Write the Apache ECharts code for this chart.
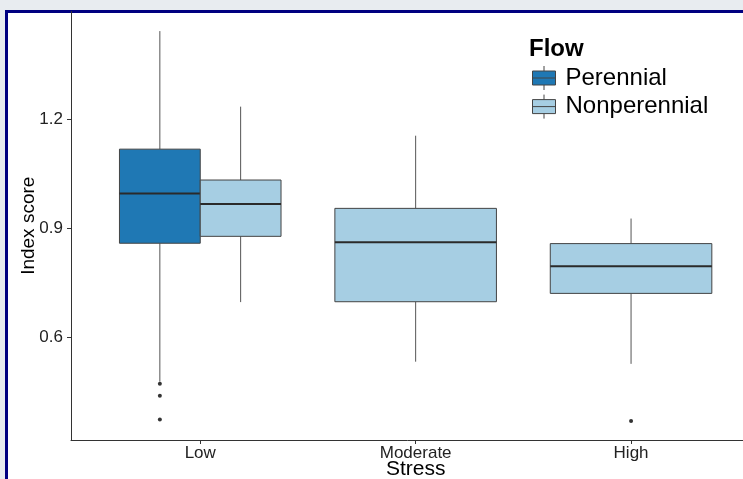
<!DOCTYPE html>
<html>
<head>
<meta charset="utf-8">
<script src="https://cdn.jsdelivr.net/npm/echarts@6/dist/echarts.min.js"></script>
<style>
  html, body { margin: 0; padding: 0; background: #e8ecf0; }
  #frame { position: absolute; left: 5px; top: 10px; width: 800px; height: 500px;
           border-top: 3px solid #000080; border-left: 3px solid #000080; background: #ffffff; }
  #chart { position: absolute; left: 0; top: 0; width: 743px; height: 479px; }
</style>
</head>
<body>
<div id="frame"></div>
<div id="chart"></div>
<script>
// Stress levels on the x axis
const categories = ['Low', 'Moderate', 'High'];
// Flow groups and their fill colours
const groups = ['Perennial', 'Nonperennial'];
const groupColors = ['#1f78b4', '#a6cee3'];
// Five-number summaries per stress level: [lower whisker, Q1, median, Q3, upper whisker]
const perennialStats = [[0.477, 0.858, 0.995, 1.117, 1.442], null, null];
const nonperennialStats = [
  [0.696, 0.877, 0.966, 1.032, 1.234],
  [0.532, 0.697, 0.861, 0.954, 1.154],
  [0.526, 0.720, 0.795, 0.857, 0.926]
];
// Outlying points: [stress level, index score]
const perennialOutliers = [['Low', 0.471], ['Low', 0.438], ['Low', 0.373]];
const nonperennialOutliers = [['High', 0.369]];
// Y axis tick values
const yTicks = [0.6, 0.9, 1.2];

const FONT = 'Liberation Sans, Arial, sans-serif';
const DODGE = 0.75;          // total width of the dodged boxes, in category units
const allStats = [perennialStats, nonperennialStats];

// groups present at a category and the slot a group takes there
function groupsAt(ci) { return allStats.map((s, g) => s[ci] ? g : -1).filter(g => g >= 0); }
function slotOf(g, ci) { return groupsAt(ci).indexOf(g); }
function xCenter(g, ci) {
  const present = groupsAt(ci);
  const w = DODGE / present.length;
  return ci + 1 - DODGE / 2 + (present.indexOf(g) + 0.5) * w;
}

function boxData(stats, g) {
  const out = [];
  stats.forEach((s, ci) => {
    if (s) out.push([ci + 1].concat(s, [slotOf(g, ci), groupsAt(ci).length]));
  });
  return out;
}
function outlierData(points, g) {
  return points.map(p => {
    const ci = categories.indexOf(p[0]);
    return [xCenter(g, ci), p[1]];
  });
}

function renderBox(params, api) {
  const c = api.value(0), slot = api.value(6), n = api.value(7);
  const w = DODGE / n;
  const x0 = c - DODGE / 2 + slot * w, x1 = x0 + w, xm = x0 + w / 2;
  const pLo = api.coord([xm, api.value(1)]);
  const pQ1 = api.coord([x0, api.value(2)]);
  const pM0 = api.coord([x0, api.value(3)]);
  const pM1 = api.coord([x1, api.value(3)]);
  const pQ3 = api.coord([x1, api.value(4)]);
  const pHi = api.coord([xm, api.value(5)]);
  return {
    type: 'group',
    children: [
      { type: 'line', shape: { x1: pLo[0], y1: pLo[1], x2: pLo[0], y2: pQ1[1] },
        style: { stroke: '#555', lineWidth: 1 } },
      { type: 'line', shape: { x1: pHi[0], y1: pHi[1], x2: pHi[0], y2: pQ3[1] },
        style: { stroke: '#555', lineWidth: 1 } },
      { type: 'rect', shape: { x: pQ1[0], y: pQ3[1], width: pQ3[0] - pQ1[0], height: pQ1[1] - pQ3[1] },
        style: { fill: api.visual('color'), stroke: '#444', lineWidth: 1 } },
      { type: 'line', shape: { x1: pM0[0], y1: pM0[1], x2: pM1[0], y2: pM1[1] },
        style: { stroke: '#2a2a2a', lineWidth: 2 } }
    ]
  };
}

// legend key: a small box with whiskers and a median bar
const KEY_ICON = 'path://M11.5,0L11.5,5M0,5L23,5L23,19L0,19ZM0,12L23,12M11.5,19L11.5,24';

const chart = echarts.init(document.getElementById('chart'), null, { renderer: 'canvas' });
chart.setOption({
  backgroundColor: 'transparent',
  animation: false,
  textStyle: { fontFamily: FONT },
  title: {
    text: 'Flow', left: 529, top: 37, padding: 0,
    textStyle: { fontSize: 24, fontWeight: 'bold', color: '#000', fontFamily: FONT }
  },
  legend: {
    orient: 'vertical', left: 532, top: 65.5, padding: 0,
    itemGap: 3.6, itemWidth: 23, itemHeight: 24, selectedMode: false,
    textStyle: { fontSize: 24, color: '#000', fontFamily: FONT, padding: [0, 0, 0, 5] },
    data: groups.map((g, i) => ({
      name: g, icon: KEY_ICON,
      itemStyle: { color: groupColors[i], borderColor: '#444', borderWidth: 1 }
    }))
  },
  grid: { left: 71, top: 11.5, width: 689.3, height: 428.5, containLabel: false, outerBoundsMode: 'none' },
  xAxis: {
    type: 'value', min: 0.4, max: 3.6,
    name: 'Stress', nameLocation: 'middle', nameGap: 19, nameMoveOverlap: false,
    nameTextStyle: { fontSize: 21, color: '#000', fontFamily: FONT },
    axisLine: { show: true, lineStyle: { color: '#333', width: 1 } },
    axisTick: { show: true, customValues: [1, 2, 3], length: 4, lineStyle: { color: '#333' } },
    axisLabel: { customValues: [1, 2, 3], formatter: v => categories[Math.round(v) - 1],
                 fontSize: 17, color: '#222', margin: 5, fontFamily: FONT },
    splitLine: { show: false }
  },
  yAxis: {
    type: 'value', min: 0.3164, max: 1.4959,
    name: 'Index score', nameLocation: 'middle', nameGap: 33, nameRotate: 90, nameMoveOverlap: false,
    nameTextStyle: { fontSize: 19, color: '#000', fontFamily: FONT },
    axisLine: { show: true, lineStyle: { color: '#333', width: 1 } },
    axisTick: { show: true, customValues: yTicks, length: 4, lineStyle: { color: '#333' } },
    axisLabel: { customValues: yTicks, formatter: v => v.toFixed(1),
                 fontSize: 17, color: '#222', margin: 8, fontFamily: FONT },
    splitLine: { show: false }
  },
  series: [
    {
      name: groups[0], type: 'custom', renderItem: renderBox,
      itemStyle: { color: groupColors[0] },
      encode: { x: 0, y: [1, 5] },
      data: boxData(perennialStats, 0), z: 2
    },
    {
      name: groups[1], type: 'custom', renderItem: renderBox,
      itemStyle: { color: groupColors[1] },
      encode: { x: 0, y: [1, 5] },
      data: boxData(nonperennialStats, 1), z: 2
    },
    {
      name: groups[0] + ' outliers', type: 'scatter', symbolSize: 4,
      itemStyle: { color: '#000' }, data: outlierData(perennialOutliers, 0), z: 3
    },
    {
      name: groups[1] + ' outliers', type: 'scatter', symbolSize: 4,
      itemStyle: { color: '#000' }, data: outlierData(nonperennialOutliers, 1), z: 3
    }
  ]
});
</script>
</body>
</html>
